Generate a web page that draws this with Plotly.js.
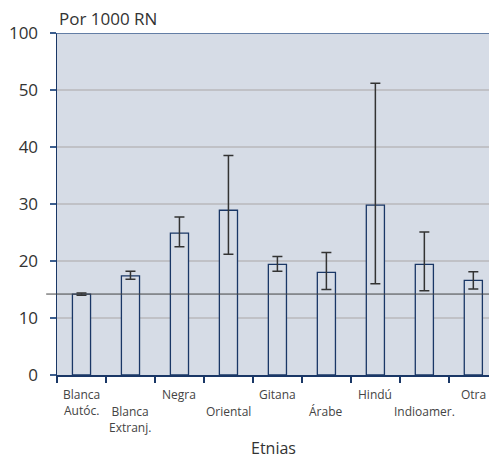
<!DOCTYPE html>
<html><head><meta charset="utf-8">
<script src="https://cdn.plot.ly/plotly-3.0.1.min.js"></script>
<style>html,body{margin:0;padding:0;background:#fff;overflow:hidden}#chart{width:489px;height:461px}</style>
</head><body><div id="chart"></div>
<script>
const categorias = ["Blanca Autóc.","Blanca Extranj.","Negra","Oriental","Gitana","Árabe","Hindú","Indioamer.","Otra"];
const etiquetas = ["Blanca<br>Autóc.","Blanca<br>Extranj.","Negra","Oriental","Gitana","Árabe","Hindú","Indioamer.","Otra"];
const tasas = [14.2, 17.4, 24.9, 28.9, 19.4, 18.0, 29.8, 19.4, 16.6];
const icSuperior = [14.4, 18.2, 27.7, 38.5, 20.8, 21.5, 51.2, 25.1, 18.1];
const icInferior = [14.0, 16.8, 22.5, 21.2, 18.2, 15.0, 16.0, 14.8, 15.1];
const referencia = 14.2;
const yTicks = [0, 10, 20, 30, 40, 50, 60];
const yTickText = ["0", "10", "20", "30", "40", "50", "100"];

const errPlus = tasas.map((v, i) => icSuperior[i] - v);
const errMinus = tasas.map((v, i) => v - icInferior[i]);

const trace = {
  type: "bar",
  x: categorias,
  y: tasas,
  width: 0.37,
  marker: { color: "rgba(214,220,230,1)", line: { color: "#1a3766", width: 1.3 } },
  error_y: { type: "data", symmetric: false, array: errPlus, arrayminus: errMinus,
             color: "#333333", thickness: 1.5, width: 5 },
  hoverinfo: "none"
};

const labelAnnotations = categorias.map((c, i) => ({
  text: etiquetas[i], x: c, xref: "x", y: 0, yref: "paper",
  xanchor: "center", yanchor: "top", yshift: i % 2 === 0 ? -9 : -26,
  showarrow: false, align: "center",
  font: { size: 12, color: "#444444" }
}));

const layout = {
  width: 489, height: 461,
  margin: { l: 57, r: 0, t: 33, b: 86 },
  paper_bgcolor: "#ffffff",
  plot_bgcolor: "#d6dce6",
  font: { family: "Open Sans, Noto Sans, sans-serif", color: "#333333" },
  showlegend: false,
  xaxis: {
    type: "category",
    range: [-0.5, 8.32],
    tickvals: categorias, ticktext: categorias.map(() => ""),
    tickson: "boundaries",
    ticks: "outside", ticklen: 6, tickwidth: 1.5, tickcolor: "#1a3766",
    showline: true, linecolor: "#1a3766", linewidth: 1.5,
    showgrid: false
  },
  yaxis: {
    range: [0, 60],
    tickvals: yTicks, ticktext: yTickText,
    ticks: "outside", ticklen: 6, tickwidth: 1.5, tickcolor: "#3d5f8f",
    ticklabelstandoff: 8,
    showline: true, linecolor: "#1a3766", linewidth: 1.5,
    showgrid: true, gridcolor: "#c0c1c6", gridwidth: 1.5,
    zeroline: false,
    tickfont: { size: 17, color: "#333333" }
  },
  shapes: [
    { type: "line", xref: "paper", yref: "y", x0: -0.025, x1: 1, y0: referencia, y1: referencia,
      line: { color: "#444444", width: 1 } },
    { type: "line", xref: "paper", yref: "y", x0: -0.014, x1: 1, y0: 60, y1: 60,
      line: { color: "#3d5f8f", width: 1.5 } }
  ],
  annotations: [
    { text: "Por 1000 RN", xref: "paper", yref: "paper", x: 0, y: 1, xanchor: "left", yanchor: "bottom",
      yshift: 1, showarrow: false, font: { size: 17, color: "#333333" } },
    { text: "Etnias", xref: "paper", yref: "paper", x: 0.5, y: 0, xanchor: "center", yanchor: "top",
      yshift: -60, showarrow: false, font: { size: 16, color: "#333333" } }
  ].concat(labelAnnotations)
};

Plotly.newPlot("chart", [trace], layout, { staticPlot: true, displayModeBar: false });
</script></body></html>
